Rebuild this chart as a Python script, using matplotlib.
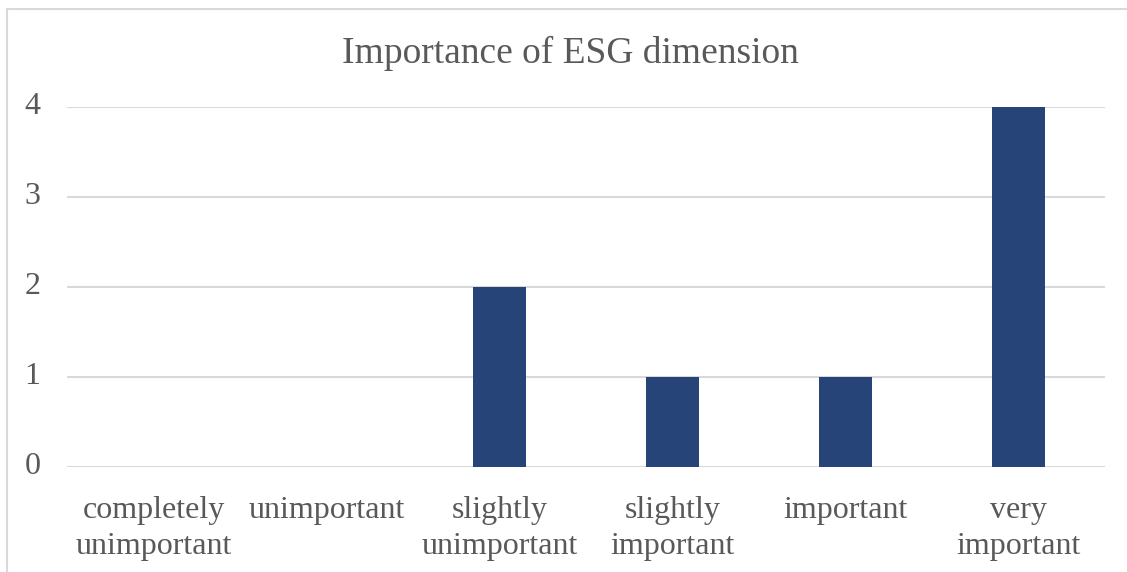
import matplotlib
matplotlib.use("Agg")
import matplotlib.pyplot as plt
from matplotlib.patches import Rectangle

categories = ["completely\nunimportant", "unimportant", "slightly\nunimportant",
              "slightly\nimportant", "important", "very\nimportant"]
counts = [0, 0, 2, 1, 1, 4]
y_ticks = [0, 1, 2, 3, 4]

W, H = 1127, 572
fig = plt.figure(figsize=(W / 100, H / 100), dpi=100)
plt.rcParams["font.family"] = ["Liberation Serif", "DejaVu Serif"]
text_color = "#595959"
grid_color = "#d9d9d9"

# chart area outline (left and top edges visible)
fig.patches.append(Rectangle((7 / W, -0.1), 1.2, 1 - 9 / H + 0.1,
                             transform=fig.transFigure, fill=False,
                             edgecolor=grid_color, linewidth=1.5))

left, right = 67 / W, 1105 / W
y0_px, y4_px = 467, 107
bottom = 1 - y0_px / H
top = 1 - y4_px / H
ax = fig.add_axes([left, bottom, right - left, top - bottom])

x = range(len(categories))
ax.bar(x, counts, width=0.31, color="#264478", zorder=3)
ax.set_xlim(-0.5, len(categories) - 0.5)
ax.set_ylim(0, 4)
ax.set_yticks(y_ticks)
ax.set_yticklabels([str(v) for v in y_ticks])
ax.set_xticks(list(x))
ax.set_xticklabels(categories, linespacing=1.3)
for s in ax.spines.values():
    s.set_visible(False)
ax.grid(axis="y", color=grid_color, linewidth=1.5, zorder=0)
ax.set_axisbelow(True)
ax.tick_params(axis="both", length=0, labelsize=23, labelcolor=text_color)
ax.tick_params(axis="y", pad=19)
ax.tick_params(axis="x", pad=21)
for t in ax.get_yticklabels():
    t.set_verticalalignment("center")

fig.text(570.5 / W, 1 - 53 / H, "Importance of ESG dimension",
         ha="center", va="center", fontsize=27, color=text_color)

fig.savefig("out.png", dpi=100)
